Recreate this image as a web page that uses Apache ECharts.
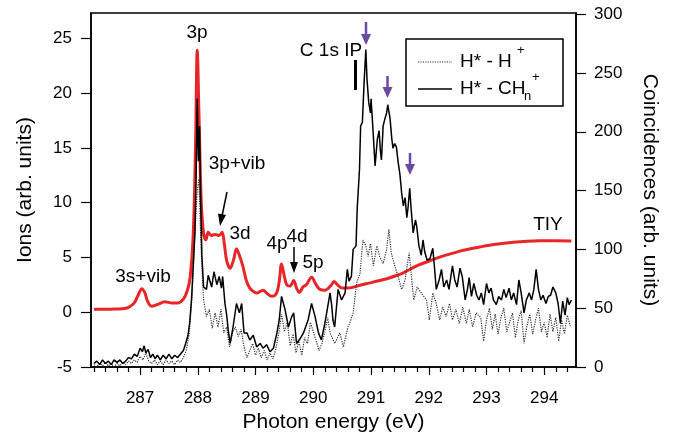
<!DOCTYPE html>
<html><head><meta charset="utf-8">
<script src="https://cdn.jsdelivr.net/npm/echarts@6/dist/echarts.min.js"></script>
<style>html,body{margin:0;padding:0;background:#fff}#c{width:674px;height:438px}</style>
</head><body><div id="c"></div>
<script>
// ---- data ----
const tiyEnergy = [286.2,286.5,286.7,286.8,286.9,286.97,287.03,287.08,287.13,287.2,287.3,287.43,287.55,287.65,287.75,287.82,287.87,287.92,287.96,287.99,288.02,288.06,288.1,288.14,288.18,288.23,288.3,288.37,288.42,288.46,288.5,288.56,288.62,288.67,288.72,288.78,288.84,288.9,288.96,289.02,289.08,289.13,289.2,289.28,289.36,289.41,289.45,289.49,289.54,289.6,289.66,289.71,289.76,289.82,289.88,289.97,290.04,290.11,290.2,290.3,290.36,290.42,290.5,290.6,290.7,290.81,291.0,291.15,291.3,291.44,291.56,291.67,291.8,292.02,292.2,292.36,292.6,292.88,293.15,293.46,293.7,293.92,294.2,294.47];
const tiyIons = [0.27,0.28,0.32,0.45,0.85,1.6,2.15,1.8,1.0,0.55,0.7,0.95,0.85,0.85,1.2,2.0,3.3,7,15,23.9,18,10,7.2,6.6,7.3,7.0,7.1,7.0,7.3,6.2,4.7,4.0,4.8,5.8,5.2,4.2,2.9,2.2,1.9,1.75,1.9,2.0,1.7,1.45,1.7,2.8,4.4,3.5,2.5,2.4,2.9,2.2,1.8,2.3,2.5,3.2,2.6,2.1,2.0,2.4,2.8,2.5,2.2,2.2,2.3,2.46,2.7,2.9,3.1,3.35,3.6,3.9,4.25,4.7,5.05,5.3,5.65,5.95,6.2,6.38,6.48,6.52,6.52,6.5];

const chEnergy = [286.2,286.25,286.3,286.35,286.4,286.45,286.5,286.55,286.6,286.65,286.7,286.75,286.8,286.85,286.9,286.95,287.0,287.04,287.07,287.1,287.14,287.18,287.22,287.26,287.3,287.35,287.4,287.45,287.5,287.55,287.6,287.65,287.7,287.75,287.79,287.83,287.86,287.89,287.92,287.95,287.97,287.99,288.01,288.03,288.05,288.07,288.1,288.15,288.18,288.24,288.28,288.33,288.37,288.41,288.43,288.47,288.5,288.53,288.56,288.61,288.64,288.67,288.72,288.76,288.8,288.85,288.9,288.96,289.02,289.08,289.13,289.19,289.25,289.31,289.37,289.41,289.45,289.51,289.57,289.62,289.66,289.71,289.77,289.83,289.91,289.97,290.03,290.09,290.14,290.2,290.26,290.29,290.32,290.34,290.37,290.43,290.49,290.55,290.59,290.62,290.66,290.69,290.74,290.76,290.8,290.82,290.85,290.88,290.91,290.93,290.96,290.99,291.0,291.02,291.05,291.07,291.11,291.14,291.16,291.18,291.21,291.24,291.27,291.29,291.33,291.36,291.38,291.41,291.44,291.47,291.5,291.53,291.56,291.59,291.62,291.64,291.67,291.7,291.73,291.77,291.79,291.83,291.87,291.9,291.93,291.97,292.02,292.07,292.1,292.13,292.18,292.22,292.26,292.31,292.35,292.41,292.45,292.49,292.54,292.58,292.63,292.67,292.7,292.74,292.78,292.83,292.87,292.91,292.95,293.0,293.04,293.08,293.12,293.17,293.21,293.26,293.3,293.34,293.39,293.43,293.47,293.52,293.56,293.6,293.65,293.69,293.74,293.78,293.82,293.86,293.9,293.94,293.98,294.03,294.07,294.11,294.15,294.2,294.24,294.28,294.32,294.36,294.4,294.43,294.47];
const chCoinc = [3,5,2,6,3,5,2,6,4,6,3,5,8,7,11,9,16,13,18,12,15,8,11,7,10,6,10,7,11,7,10,8,11,14,20,27,38,57,85,114,160,228,175,205,140,95,68,66,78,68,81,70,77,67,77,54,44,30,20,34,44,54,46,54,29,29,23,27,17,20,16,19,13,16,29,40,60,49,34,42,46,20,24,29,40,54,43,29,23,37,54,63,52,40,34,66,57,63,83,73,77,100,103,134,168,205,208,242,270,245,225,216,228,213,188,171,194,201,185,176,205,211,216,223,211,194,186,190,187,174,164,148,137,144,127,135,152,131,114,125,120,103,95,108,98,91,92,101,84,66,74,83,68,74,66,86,74,68,84,77,57,66,76,60,71,61,57,63,53,71,63,67,57,53,60,57,66,59,67,57,63,53,74,63,46,57,63,57,66,83,66,57,61,54,60,61,68,63,54,37,56,44,59,53,57];

const hEnergy = [286.2,286.25,286.3,286.35,286.4,286.45,286.5,286.55,286.6,286.65,286.7,286.75,286.8,286.85,286.9,286.95,287.0,287.05,287.1,287.15,287.2,287.25,287.3,287.35,287.4,287.45,287.5,287.55,287.6,287.65,287.7,287.75,287.8,287.85,287.9,287.95,287.99,288.02,288.05,288.08,288.1,288.15,288.2,288.25,288.3,288.35,288.4,288.45,288.5,288.55,288.6,288.65,288.7,288.75,288.8,288.85,288.9,288.95,289.0,289.05,289.1,289.15,289.2,289.25,289.3,289.35,289.4,289.45,289.5,289.55,289.6,289.65,289.7,289.75,289.8,289.85,289.9,289.95,290.0,290.05,290.1,290.15,290.2,290.25,290.29,290.37,290.46,290.52,290.6,290.63,290.69,290.75,290.81,290.86,290.91,290.95,290.99,291.04,291.1,291.15,291.21,291.27,291.31,291.35,291.41,291.47,291.53,291.59,291.66,291.7,291.74,291.8,291.87,291.96,292.01,292.07,292.13,292.19,292.24,292.3,292.36,292.41,292.47,292.53,292.59,292.65,292.7,292.76,292.82,292.9,292.95,293.0,293.05,293.1,293.15,293.2,293.25,293.3,293.35,293.4,293.45,293.5,293.55,293.6,293.65,293.7,293.75,293.8,293.85,293.9,293.95,294.0,294.05,294.1,294.15,294.2,294.25,294.3,294.35,294.4,294.45];
const hCoinc = [2,0,3,1,4,1,3,0,3,1,4,2,5,3,6,4,9,6,12,5,3,6,2,5,2,6,3,5,2,6,4,8,14,28,60,115,150,160,110,75,57,43,49,33,46,34,49,29,34,17,29,34,26,32,17,8,14,20,10,16,8,14,6,12,7,15,28,45,30,38,18,28,12,22,10,25,20,38,30,22,14,20,30,42,29,20,29,17,34,37,46,71,80,108,103,94,105,86,103,94,88,100,117,97,86,77,66,74,97,77,57,68,63,57,40,63,54,40,51,43,54,40,49,37,51,37,49,34,46,42,22,40,50,32,45,28,42,50,30,38,46,25,40,48,20,35,45,28,40,50,30,38,25,45,30,42,22,40,28,44,35];

const xTickValues = [287,288,289,290,291,292,293,294];
const leftTickValues = [-5,0,5,10,15,20,25];
const rightTickValues = [0,50,100,150,200,250,300];
const seriesNames = ['H* - H+', 'H* - CHn+', 'TIY'];

// ---- build ----
const FONT = '"Liberation Sans", Arial, Helvetica, sans-serif';
const zip = (a, b) => a.map((v, i) => [v, b[i]]);
const minorTicks = [];
for (let i = 0; i <= 42; i++) {
  const v = Math.round((286.2 + i * 0.2) * 10) / 10;
  if (Math.abs(v - Math.round(v)) > 1e-6 && v < 294.55) minorTicks.push(v);
}

const chart = echarts.init(document.getElementById('c'), null, {renderer: 'canvas'});
const black = '#000';
const purple = '#6a4aa0';
function arrowDown(x, y0, y1, color) {
  return [
    {type: 'line', shape: {x1: x, y1: y0, x2: x, y2: y1 - 9}, style: {stroke: color, lineWidth: 2.5}, z: 50},
    {type: 'polygon', shape: {points: [[x - 5, y1 - 11], [x + 5, y1 - 11], [x, y1]]}, style: {fill: color}, z: 50}
  ];
}
const txt = (text, x, y, size, align) => ({
  type: 'text', x: x, y: y, z: 60,
  style: {text: text, fontSize: size || 19, fontFamily: FONT, fill: '#000', align: align || 'center', verticalAlign: 'middle'}
});

const graphics = [
  txt('3p', 197, 33),
  txt('3p+vib', 237, 164),
  txt('3d', 240, 234),
  txt('4p', 277, 244),
  txt('4d', 297, 237),
  txt('5p', 313, 263),
  txt('3s+vib', 143, 277),
  txt('C 1s IP', 331, 51),
  txt('TIY', 548, 225),
  // 3p+vib arrow
  {type: 'line', shape: {x1: 227, y1: 192, x2: 222, y2: 216}, style: {stroke: black, lineWidth: 1.5}, z: 50},
  {type: 'polygon', shape: {points: [[226, 215], [218, 213.5], [220, 226]]}, style: {fill: black}, z: 50},
  // 4d arrow
  {type: 'line', shape: {x1: 294, y1: 247, x2: 294, y2: 264}, style: {stroke: black, lineWidth: 1.5}, z: 50},
  {type: 'polygon', shape: {points: [[290, 262], [298, 262], [294, 273]]}, style: {fill: black}, z: 50},
  // IP bar
  {type: 'line', shape: {x1: 355.5, y1: 60, x2: 355.5, y2: 90}, style: {stroke: black, lineWidth: 3}, z: 50},
  // purple arrows
  ...arrowDown(366, 22, 45, purple),
  ...arrowDown(387.5, 76, 98, purple),
  ...arrowDown(410, 153, 175, purple),
  // legend box
  {type: 'rect', shape: {x: 406, y: 39, width: 157, height: 67}, style: {fill: '#fff', stroke: black, lineWidth: 1.5}, z: 55},
  {type: 'line', shape: {x1: 418, y1: 62, x2: 452, y2: 62}, style: {stroke: '#333', lineWidth: 1.2, lineDash: [1.2, 1.2]}, z: 60},
  {type: 'line', shape: {x1: 418, y1: 89, x2: 452, y2: 89}, style: {stroke: black, lineWidth: 1.5}, z: 60},
  txt('H* - H', 460, 62, 19, 'left'),
  txt('+', 517, 50, 13, 'left'),
  txt('H* - CH', 460, 89, 19, 'left'),
  txt('n', 524, 96, 13, 'left'),
  txt('+', 532, 77, 13, 'left')
];

const axisFont = {fontSize: 17, fontFamily: FONT, color: '#000'};
const nameFont = {fontSize: 21, fontFamily: FONT, color: '#000'};
const axisLineStyle = {color: '#000', width: 1.5};

chart.setOption({
  animation: false,
  backgroundColor: '#fff',
  grid: {left: 91, right: 98, top: 13, bottom: 71, show: true, borderColor: '#000', borderWidth: 1.5, containLabel: false, outerBoundsMode: 'none'},
  xAxis: [
    {type: 'value', min: 286.15, max: 294.55, position: 'bottom',
     axisLine: {show: true, onZero: false, lineStyle: axisLineStyle},
     axisTick: {show: true, length: 8, lineStyle: {color: '#000', width: 1.2}, customValues: xTickValues},
     axisLabel: Object.assign({customValues: xTickValues, margin: 23}, axisFont),
     splitLine: {show: false},
     name: 'Photon energy (eV)', nameLocation: 'middle', nameGap: 40, nameTextStyle: nameFont},
    {type: 'value', min: 286.15, max: 294.55, position: 'bottom',
     axisLine: {show: false, onZero: false},
     axisTick: {show: true, length: 5, lineStyle: {color: '#000', width: 1.2}, customValues: minorTicks},
     axisLabel: {show: false}, splitLine: {show: false}}
  ],
  yAxis: [
    {type: 'value', position: 'left', min: -5, max: 27.31,
     axisLine: {show: true, onZero: false, lineStyle: axisLineStyle},
     axisTick: {show: true, length: 10, lineStyle: {color: '#000', width: 1.2}, customValues: leftTickValues},
     axisLabel: Object.assign({customValues: leftTickValues, margin: 19}, axisFont),
     splitLine: {show: false},
     name: 'Ions (arb. units)', nameLocation: 'middle', nameGap: 55, nameRotate: 90, nameTextStyle: nameFont},
    {type: 'value', position: 'right', min: 0, max: 301,
     axisLine: {show: true, onZero: false, lineStyle: axisLineStyle},
     axisTick: {show: true, length: 10, lineStyle: {color: '#000', width: 1.2}, customValues: rightTickValues},
     axisLabel: Object.assign({customValues: rightTickValues, margin: 18}, axisFont),
     splitLine: {show: false},
     name: 'Coincidences (arb. units)', nameLocation: 'middle', nameGap: 63, nameRotate: -90, nameTextStyle: nameFont}
  ],
  series: [
    {name: seriesNames[2], type: 'line', xAxisIndex: 0, yAxisIndex: 0, data: zip(tiyEnergy, tiyIons),
     smooth: 0.35, showSymbol: false, lineStyle: {color: '#e8262a', width: 3}, z: 2},
    {name: seriesNames[0], type: 'line', xAxisIndex: 0, yAxisIndex: 1, data: zip(hEnergy, hCoinc),
     showSymbol: false, lineStyle: {color: '#333', width: 1.2, type: [1.2, 1.2]}, z: 3},
    {name: seriesNames[1], type: 'line', xAxisIndex: 0, yAxisIndex: 1, data: zip(chEnergy, chCoinc),
     showSymbol: false, lineStyle: {color: '#000', width: 1.5}, z: 4}
  ],
  graphic: graphics
});
</script></body></html>
